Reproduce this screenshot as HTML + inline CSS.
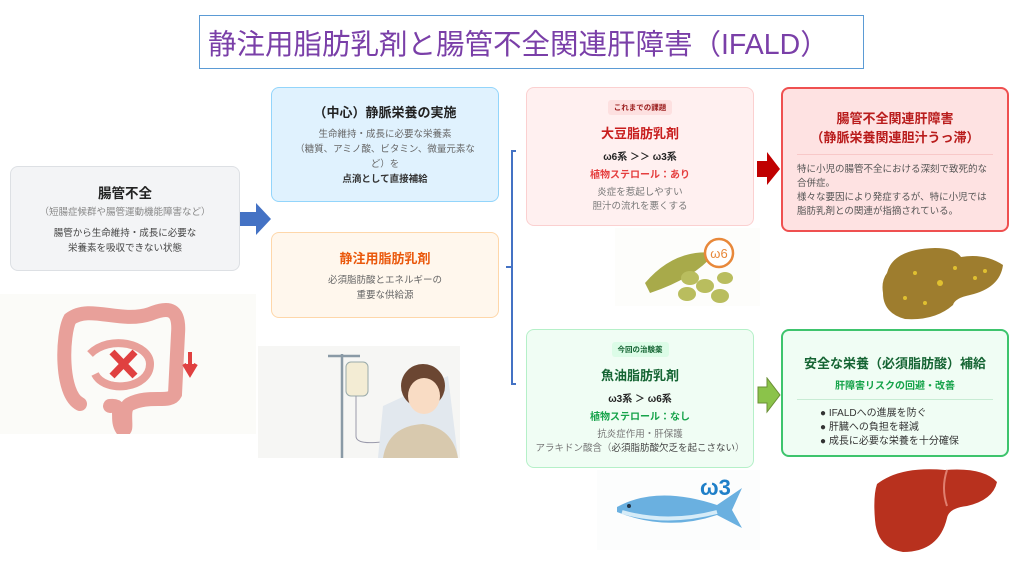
<!DOCTYPE html>
<html><head><meta charset="utf-8">
<style>
*{margin:0;padding:0;box-sizing:border-box}
body{width:1024px;height:567px;background:#fff;position:relative;overflow:hidden;font-family:"Liberation Sans","Noto Sans CJK JP",sans-serif;color:#333}
.a{position:absolute}
.box{position:absolute;border-radius:8px;text-align:center;display:flex;flex-direction:column;justify-content:center;align-items:center}
.t{font-weight:bold;font-size:13px;color:#222}
.s{font-size:9.5px;color:#666;line-height:14px}
.tag{font-size:7.5px;font-weight:bold;padding:2px 6px;border-radius:3px;margin-bottom:8px}
</style></head><body>
<div class="a" style="left:199px;top:15px;width:665px;height:54px;border:1px solid #5b9bd5;"></div>
<div class="a" style="left:208px;top:22px;font-size:28.5px;color:#7a3fa8;white-space:nowrap">静注用脂肪乳剤と腸管不全関連肝障害（IFALD）</div>

<div class="box" style="left:10px;top:166px;width:230px;height:105px;background:#f3f4f6;border:1px solid #dde0e4">
<div class="t" style="font-size:13.5px;margin-bottom:4px">腸管不全</div>
<div class="s" style="color:#888;margin-bottom:6px">（短腸症候群や腸管運動機能障害など）</div>
<div class="s" style="color:#444;line-height:15px">腸管から生命維持・成長に必要な<br>栄養素を吸収できない状態</div>
</div>
<svg class="a" style="left:240px;top:203px" width="32" height="33"><polygon points="0,9 16,9 16,0 31,16 16,32 16,23 0,23" fill="#4472c4"/></svg>

<div class="box" style="left:271px;top:87px;width:228px;height:115px;background:#e0f2fe;border:1px solid #93d5fb">
<div class="t" style="margin-bottom:6px">（中心）静脈栄養の実施</div>
<div class="s" style="line-height:15px">生命維持・成長に必要な栄養素<br>（糖質、アミノ酸、ビタミン、微量元素な<br>ど）を<br><b style="color:#333">点滴として直接補給</b></div>
</div>
<div class="box" style="left:271px;top:232px;width:228px;height:86px;background:#fff7ed;border:1px solid #fed7aa">
<div class="t" style="color:#ea580c;margin-bottom:6px">静注用脂肪乳剤</div>
<div class="s" style="line-height:15px">必須脂肪酸とエネルギーの<br>重要な供給源</div>
</div>

<svg class="a" style="left:500px;top:145px" width="30" height="245"><path d="M16,6 H12 V239 H16 M12,122 H6" fill="none" stroke="#4472c4" stroke-width="2"/></svg>

<div class="box" style="left:526px;top:87px;width:228px;height:139px;background:#fff0f0;border:1px solid #fbd0d0">
<div class="tag" style="background:#fde0e0;color:#9b1c1c">これまでの課題</div>
<div class="t" style="color:#c81e1e;margin-bottom:6px">大豆脂肪乳剤</div>
<div class="t" style="font-size:10px;margin-bottom:3px">ω6系 ＞＞ ω3系</div>
<div class="t" style="font-size:10px;color:#e53e3e;margin-bottom:5px">植物ステロール：あり</div>
<div class="s" style="color:#777">炎症を惹起しやすい<br>胆汁の流れを悪くする</div>
</div>
<svg class="a" style="left:757px;top:152px" width="24" height="34"><polygon points="0,9 10,9 10,0 23,17 10,33 10,25 0,25" fill="#c00000"/></svg>

<div class="box" style="left:781px;top:87px;width:228px;height:145px;background:#fee2e2;border:2px solid #ef5050;justify-content:flex-start;padding-top:20px">
<div class="t" style="color:#b91c1c;line-height:19px">腸管不全関連肝障害<br>（静脈栄養関連胆汁うっ滞）</div>
<div style="width:196px;border-top:1px solid #f8c8c8;margin:7px 0 8px"></div>
<div class="s" style="text-align:left;width:196px;color:#555;line-height:14px">特に小児の腸管不全における深刻で致死的な合併症。<br>様々な要因により発症するが、特に小児では脂肪乳剤との関連が指摘されている。</div>
</div>

<div class="box" style="left:526px;top:329px;width:228px;height:139px;background:#f0fdf4;border:1px solid #b5f0c8">
<div class="tag" style="background:#dcfce7;color:#166534">今回の治験薬</div>
<div class="t" style="color:#166534;margin-bottom:6px">魚油脂肪乳剤</div>
<div class="t" style="font-size:10px;margin-bottom:3px">ω3系 ＞ ω6系</div>
<div class="t" style="font-size:10px;color:#16a34a;margin-bottom:5px">植物ステロール：なし</div>
<div class="s" style="color:#777">抗炎症作用・肝保護<br>アラキドン酸含（<span style="color:#444">必須脂肪酸欠乏を起こさない</span>）</div>
</div>
<svg class="a" style="left:757px;top:377px" width="24" height="37"><polygon points="1,10 10,10 10,1 23,18 10,35 10,26 1,26" fill="#8bc34a" stroke="#6a8f35"/></svg>

<div class="box" style="left:781px;top:329px;width:228px;height:128px;background:#f0fdf4;border:2px solid #3ec46d;justify-content:flex-start;padding-top:22px">
<div class="t" style="color:#166534">安全な栄養（必須脂肪酸）補給</div>
<div class="t" style="font-size:10px;color:#16a34a;margin-top:5px">肝障害リスクの回避・改善</div>
<div style="width:196px;border-top:1px solid #c8ecd4;margin:7px 0 7px"></div>
<div style="text-align:left;font-size:10px;color:#333;line-height:14px;width:150px">● IFALDへの進展を防ぐ<br>● 肝臓への負担を軽減<br>● 成長に必要な栄養を十分確保</div>
</div>

<!-- intestine -->
<svg class="a" style="left:0;top:294px" width="256" height="140">
<rect width="256" height="140" fill="#fbfbf8"/>
<path d="M80,110 C60,100 62,40 70,25 C90,10 120,30 150,20 C170,12 180,15 178,40 L175,100 C170,110 150,100 130,110 C120,115 130,140 122,135 C115,125 125,110 110,112" fill="none" stroke="#e8a09a" stroke-width="14" stroke-linecap="round"/>
<path d="M90,60 C110,40 150,50 150,70 C150,95 105,100 95,80" fill="none" stroke="#e8a09a" stroke-width="8"/>
<path d="M112,58 L135,82 M135,58 L112,82" stroke="#e04040" stroke-width="7"/>
<path d="M190,58 V75 M184,70 L190,80 L196,70" stroke="#e04040" stroke-width="4" fill="#e04040"/>
</svg>
<!-- IV patient -->
<svg class="a" style="left:258px;top:346px" width="202" height="112">
<rect width="202" height="112" fill="#f6f6f4"/>
<path d="M84,8 V112 M70,10 H102" stroke="#8a9aa6" stroke-width="2.5" fill="none"/>
<rect x="88" y="16" width="22" height="34" rx="5" fill="#f3ecd4" stroke="#9aa"/>
<path d="M98,50 V90 Q98,100 130,95" stroke="#99a" fill="none"/>
<path d="M125,60 L190,30 L200,112 L120,112 Z" fill="#e2e8ee"/>
<path d="M125,112 Q130,80 165,78 Q195,82 200,112 Z" fill="#d8c9ae"/>
<circle cx="165" cy="40" r="22" fill="#6b4632"/>
<ellipse cx="166" cy="50" rx="16" ry="18" fill="#f9dcc4"/>
</svg>
<!-- beans -->
<svg class="a" style="left:615px;top:228px" width="145" height="78">
<rect width="145" height="78" fill="#fdfdfb"/>
<path d="M30,55 Q60,20 100,25 Q80,50 35,65 Z" fill="#a8aa4a"/>
<g fill="#b9bd5e"><ellipse cx="75" cy="50" rx="9" ry="7"/><ellipse cx="90" cy="58" rx="9" ry="7"/><ellipse cx="72" cy="66" rx="9" ry="7"/><ellipse cx="105" cy="68" rx="9" ry="7"/><ellipse cx="110" cy="50" rx="8" ry="6"/></g>
<circle cx="104" cy="25" r="14" fill="#fff" stroke="#e8883a" stroke-width="2.5"/>
<text x="104" y="30" font-size="13" fill="#e8883a" text-anchor="middle" font-family="Liberation Sans">ω6</text>
</svg>
<!-- brown liver -->
<svg class="a" style="left:865px;top:243px" width="145" height="78">
<path d="M22,30 Q28,6 70,5 Q90,5 96,14 Q120,10 138,22 Q135,45 105,52 Q90,55 88,62 Q70,78 40,76 Q18,70 18,50 Q16,38 22,30 Z" fill="#9e7d2e"/>
<g fill="#e0c030"><circle cx="50" cy="30" r="2"/><circle cx="75" cy="40" r="3"/><circle cx="110" cy="35" r="2"/><circle cx="40" cy="55" r="2"/><circle cx="90" cy="25" r="2"/><circle cx="60" cy="60" r="2"/><circle cx="120" cy="28" r="2"/></g>
</svg>
<!-- fish -->
<svg class="a" style="left:597px;top:470px" width="163" height="80">
<rect width="163" height="80" fill="#fcfdfd"/>
<path d="M20,37 Q60,15 120,35 L145,18 L135,40 L145,58 L120,45 Q70,62 20,42 Z" fill="#6ab0e0"/>
<path d="M25,42 Q70,55 120,42" stroke="#d6ecf8" stroke-width="4" fill="none"/>
<circle cx="32" cy="36" r="2" fill="#234"/>
<text x="103" y="25" font-size="22" font-weight="bold" fill="#1f7fc8" font-family="Liberation Sans">ω3</text>
</svg>
<!-- red liver -->
<svg class="a" style="left:855px;top:462px" width="145" height="92">
<path d="M22,22 Q45,4 90,8 Q128,5 142,20 Q138,38 112,44 Q94,46 92,56 Q84,90 48,90 Q22,86 20,58 Q18,34 22,22 Z" fill="#b8311e"/>
<path d="M92,8 Q86,26 92,44" stroke="#e08070" stroke-width="2" fill="none"/>
</svg>
</body></html>
